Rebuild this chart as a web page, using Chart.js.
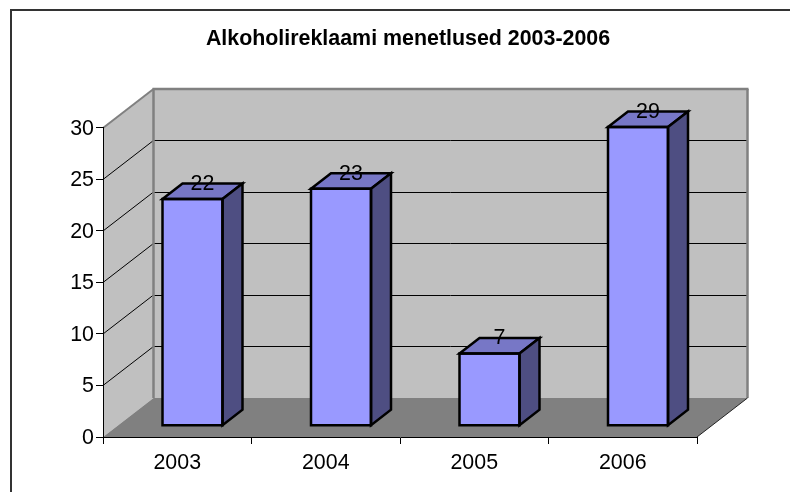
<!DOCTYPE html>
<html><head><meta charset="utf-8">
<style>html,body{margin:0;padding:0;background:#fff;overflow:hidden}canvas{display:block}</style>
<script src="https://cdn.jsdelivr.net/npm/chart.js@4/dist/chart.umd.js"></script>
</head><body>
<canvas id="c" width="790" height="492"></canvas>
<script>
const titleText = 'Alkoholireklaami menetlused 2003-2006';
const categories = ['2003', '2004', '2005', '2006'];
const values = [22, 23, 7, 29];
const yMin = 0, yMax = 30, yStep = 5;

const FONT = '"Liberation Sans", Arial, sans-serif';
const wall = {dx: 50.5, dy: -39};
const slot = {dx: 15.25, dy: -11.3};
const depth = {dx: 20, dy: -15.5};
const colors = {wall: '#C0C0C0', floor: '#808080', edge: '#808080', grid: '#000000',
  barFront: '#9999FF', barTop: '#7777C6', barSide: '#4E4E82'};

function poly(ctx, pts, fill, stroke, lw) {
  ctx.beginPath();
  pts.forEach((p, i) => i ? ctx.lineTo(p[0], p[1]) : ctx.moveTo(p[0], p[1]));
  ctx.closePath();
  if (fill) { ctx.fillStyle = fill; ctx.fill(); }
  if (stroke) { ctx.strokeStyle = stroke; ctx.lineWidth = lw; ctx.lineJoin = 'miter'; ctx.stroke(); }
}
function line(ctx, x1, y1, x2, y2, c, w) {
  ctx.beginPath(); ctx.moveTo(x1, y1); ctx.lineTo(x2, y2);
  ctx.strokeStyle = c; ctx.lineWidth = w; ctx.stroke();
}

const scene = {
  id: 'scene',
  beforeDraw(chart) {
    const ctx = chart.ctx, a = chart.chartArea, y = chart.scales.y;
    const L = a.left, R = a.right, T = a.top, B = a.bottom, dx = wall.dx, dy = wall.dy;
    ctx.save();
    ctx.strokeStyle = '#333'; ctx.lineWidth = 2;
    ctx.strokeRect(11, 10, 1000, 1000);
    // back and side walls
    poly(ctx, [[L + dx, T + dy], [R + dx, T + dy], [R + dx, B + dy], [L + dx, B + dy]], colors.wall);
    poly(ctx, [[L, T], [L + dx, T + dy], [L + dx, B + dy], [L, B]], colors.wall);
    // gridlines
    y.ticks.forEach(t => {
      const p = y.getPixelForValue(t.value);
      if (t.value === yMin || t.value === yMax) return;
      line(ctx, L, p, L + dx, p + dy, colors.grid, 1);
      line(ctx, L + dx, Math.round(p + dy) + 0.5, R + dx, Math.round(p + dy) + 0.5, colors.grid, 1);
    });
    // floor
    poly(ctx, [[L, B], [L + dx, B + dy], [R + dx, B + dy], [R, B]], colors.floor);
    // wall edges
    line(ctx, L, T, L + dx, T + dy, colors.edge, 2);
    line(ctx, L + dx - 1, T + dy, R + dx + 1, T + dy, colors.edge, 2.5);
    line(ctx, L + dx, T + dy, L + dx, B + dy, colors.edge, 2.5);
    line(ctx, R + dx, T + dy, R + dx, B + dy, colors.edge, 2.5);
    line(ctx, R, B, R + dx, B + dy, '#222', 1);
    ctx.restore();
  },
  beforeDatasetDraw(chart) {
    const ctx = chart.ctx;
    ctx.save();
    ctx.translate(slot.dx, slot.dy);
  },
  afterDatasetDraw(chart, args) {
    const ctx = chart.ctx;
    ctx.restore();
    ctx.save();
    args.meta.data.forEach(el => {
      const {x, y, width, base} = el.getProps(['x', 'y', 'width', 'base'], false);
      const l = x - width / 2 + slot.dx, r = x + width / 2 + slot.dx;
      const t = y + slot.dy, b = base + slot.dy;
      poly(ctx, [[l, t], [l + depth.dx, t + depth.dy], [r + depth.dx, t + depth.dy], [r, t]], colors.barTop, '#000', 2.5);
      poly(ctx, [[r, t], [r + depth.dx, t + depth.dy], [r + depth.dx, b + depth.dy], [r, b]], colors.barSide, '#000', 2.5);
      poly(ctx, [[l, t], [r, t], [r, b], [l, b]], null, '#000', 2.5);
    });
    ctx.restore();
  },
  afterDatasetsDraw(chart) {
    const ctx = chart.ctx, meta = chart.getDatasetMeta(0);
    ctx.save();
    ctx.font = '21.4px ' + FONT;
    ctx.fillStyle = '#000';
    ctx.textAlign = 'center';
    ctx.textBaseline = 'middle';
    meta.data.forEach((el, i) => {
      const {x, y} = el.getProps(['x', 'y'], false);
      ctx.fillText(String(values[i]), x + slot.dx + 10, y + slot.dy - 15);
    });
    ctx.restore();
  }
};

new Chart(document.getElementById('c'), {
  type: 'bar',
  data: {
    labels: categories,
    datasets: [{
      data: values,
      backgroundColor: colors.barFront,
      borderWidth: 0,
      barPercentage: 0.404,
      categoryPercentage: 1,
      clip: false
    }]
  },
  options: {
    responsive: false,
    animation: false,
    events: [],
    layout: {padding: {left: 26, right: 0, top: 0, bottom: 0}},
    plugins: {
      legend: {display: false},
      tooltip: {enabled: false},
      title: {
        display: true,
        text: titleText,
        color: '#000',
        font: {family: FONT, size: 21.4, weight: 'bold'},
        padding: {top: 26, bottom: 76.3}
      }
    },
    scales: {
      x: {
        type: 'category',
        offset: true,
        grid: {display: true, drawOnChartArea: false, drawTicks: true, tickLength: 7, color: '#000'},
        border: {display: true, color: '#000', width: 1},
        ticks: {color: '#000', font: {family: FONT, size: 21.4}, padding: 6, maxRotation: 0},
        afterFit(s) { s.height = 55; }
      },
      y: {
        type: 'linear',
        min: yMin, max: yMax,
        grid: {display: true, drawOnChartArea: false, drawTicks: true, tickLength: 7, color: '#000'},
        border: {display: true, color: '#000', width: 1},
        ticks: {stepSize: yStep, color: '#000', font: {family: FONT, size: 21.4}, padding: 2, labelOffset: 1},
        afterFit(s) { s.width = 77; }
      },
      spacer: {
        type: 'linear',
        position: 'right',
        display: true,
        grid: {display: false},
        border: {display: false},
        ticks: {display: false},
        afterFit(s) { s.width = 93; }
      }
    }
  },
  plugins: [scene]
});
</script>
</body></html>
